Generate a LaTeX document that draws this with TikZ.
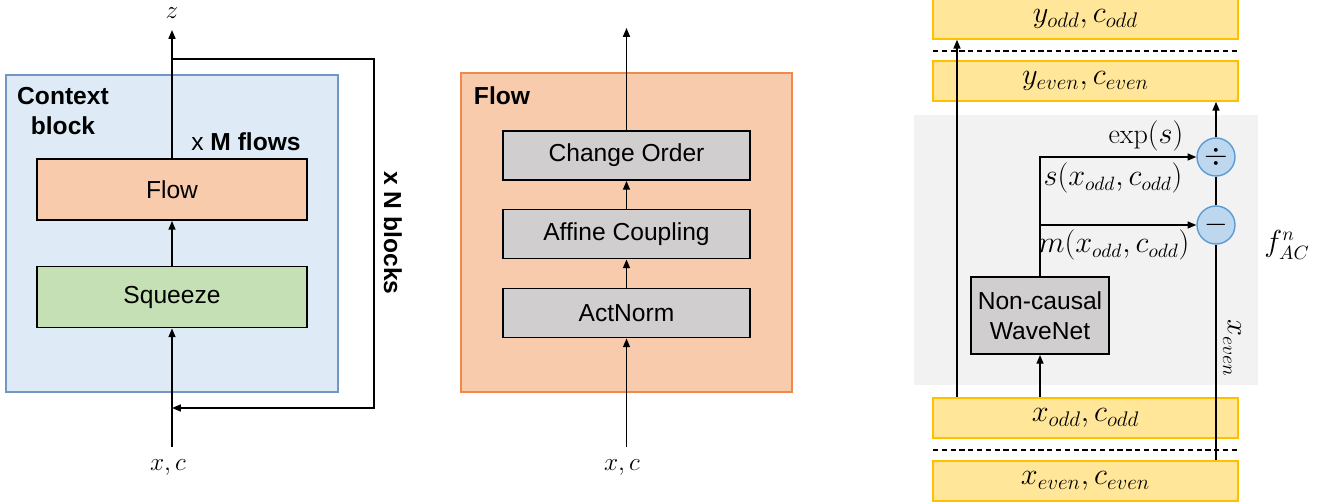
\documentclass[tikz,border=0pt]{standalone}
\usepackage{fontspec}
\usepackage{amsmath}
\newfontfamily\sansA{Liberation Sans}
\usetikzlibrary{arrows.meta}
\definecolor{ctxfill}{HTML}{DEEBF7}
\definecolor{ctxline}{HTML}{7397C4}
\definecolor{flowfill}{HTML}{F8CBAD}
\definecolor{flowline}{HTML}{F08A4B}
\definecolor{sqzfill}{HTML}{C5E0B4}
\definecolor{opfill}{HTML}{D0CECE}
\definecolor{datfill}{HTML}{FFE699}
\definecolor{datline}{HTML}{FFC000}
\definecolor{acfill}{HTML}{F2F2F2}
\definecolor{circfill}{HTML}{BDD7EE}
\definecolor{circline}{HTML}{5B9BD5}
\begin{document}
\begin{tikzpicture}[x=0.02cm,y=-0.02cm,
    txt/.style={font=\sansA\fontsize{14}{17}\selectfont},
    btxt/.style={font=\sansA\bfseries\fontsize{14}{17}\selectfont},
    mtxt/.style={font=\fontsize{15}{18}\selectfont},
    ltxt/.style={font=\fontsize{16}{19}\selectfont},
    blk/.style={txt,draw,line width=1.1pt,minimum width=5.4cm,minimum height=1.22cm},
    opbox/.style={txt,draw,line width=1.1pt,fill=opfill,minimum width=4.94cm,minimum height=0.98cm},
    dat/.style={font=\fontsize{16.5}{19}\selectfont,draw=datline,line width=0.9pt,fill=datfill,minimum width=6.1cm,minimum height=0.8cm},
    op/.style={circle,draw=circline,fill=circfill,line width=0.8pt,minimum size=0.76cm,inner sep=0pt,font=\fontsize{18}{20}\selectfont},
    sep/.style={dash pattern=on 3pt off 2pt,line width=0.6pt},
    arr/.style={-{Triangle[length=5pt,width=4pt]},line width=0.8pt}]
\useasboundingbox (0,0) rectangle (1319,503);

% context block
\node[draw=ctxline,fill=ctxfill,line width=0.9pt,minimum width=6.64cm,minimum height=6.34cm] (ctx) at (172,233.5) {};
\node[btxt,align=center] (ctxlbl) at (63,111) {Context\\block};
\node[blk,fill=flowfill] (flowA) at (172,189.5) {Flow};
\node[blk,fill=sqzfill] (sqz) at (172,297) {Squeeze};
\node[txt] (mflows) at (246,142) {x \textbf{M flows}};
\node[btxt,rotate=-90] (nblk) at (393,233) {x N blocks};
\node[mtxt] (zA) at (172,13) {$z$};
\node[mtxt] (xcA) at (168,468) {$x, c$};
\coordinate (inA) at (172,447);
\coordinate (outA) at (172,30);
\coordinate (loopA) at (172,59);
\coordinate (loopB) at (172,408);
\draw[arr] (inA) -- (sqz);
\draw[arr] (sqz) -- (flowA);
\draw[arr] (flowA) -- (outA);
\draw[arr] (loopA) -- (374,59) |- (loopB);

% one flow
\node[draw=flowline,fill=flowfill,line width=0.9pt,minimum width=6.62cm,minimum height=6.38cm] (flowP) at (626.5,232.5) {};
\node[btxt] (flowlbl) at (502,96) {Flow};
\node[opbox] (chg) at (626.5,155.5) {Change Order};
\node[opbox] (aff) at (626.5,234) {Affine Coupling};
\node[opbox] (act) at (626.5,313) {ActNorm};
\node[mtxt] (xcB) at (622,468) {$x, c$};
\coordinate (inB) at (626.5,447);
\coordinate (outB) at (626.5,28);
\draw[arr] (inB) -- (act);
\draw[arr] (act) -- (aff);
\draw[arr] (aff) -- (chg);
\draw[arr] (chg) -- (outB);

% affine coupling
\node[fill=acfill,minimum width=6.88cm,minimum height=5.4cm] (acbg) at (1086,250) {};
\node[dat] (yodd) at (1085.5,19) {$y_{odd}, c_{odd}$};
\node[dat] (yeven) at (1085.5,81) {$y_{even}, c_{even}$};
\node[dat] (xodd) at (1085.5,418) {$x_{odd}, c_{odd}$};
\node[dat] (xeven) at (1085.5,481) {$x_{even}, c_{even}$};
\draw[sep] (933,51) -- (1238,51);
\draw[sep] (933,450) -- (1238,450);
\node[txt,draw,fill=opfill,line width=1.1pt,inner sep=2pt,minimum width=2.76cm,minimum height=1.54cm,align=center] (wn) at (1040,315.5) {Non-causal\\WaveNet};
\node[op] (dv) at (1216,157) {$\div$};
\node[op] (mn) at (1216,225) {$-$};
\coordinate (oddx) at (957,0);
\draw[arr] (xodd.north -| oddx) -- (yodd.south -| oddx);
\draw[arr] (xodd.north -| wn) -- (wn);
\draw[arr] (wn.north) |- (dv);
\draw[arr] (wn.north) |- (mn);
\draw[line width=0.8pt] (xeven.north -| mn) -- (mn);
\draw[line width=0.8pt] (mn) -- (dv);
\draw[arr] (dv) -- (yeven.south -| dv);
\node[ltxt] (explbl) at (1146,136) {$\exp(s)$};
\node[ltxt] (slbl) at (1113,178) {$s(x_{odd}, c_{odd})$};
\node[ltxt] (mlbl) at (1114,245) {$m(x_{odd}, c_{odd})$};
\node[ltxt,rotate=-90] (xelbl) at (1232,348) {$x_{even}$};
\node[ltxt] (flbl) at (1287,245) {$f^{n}_{AC}$};
\end{tikzpicture}
\end{document}
